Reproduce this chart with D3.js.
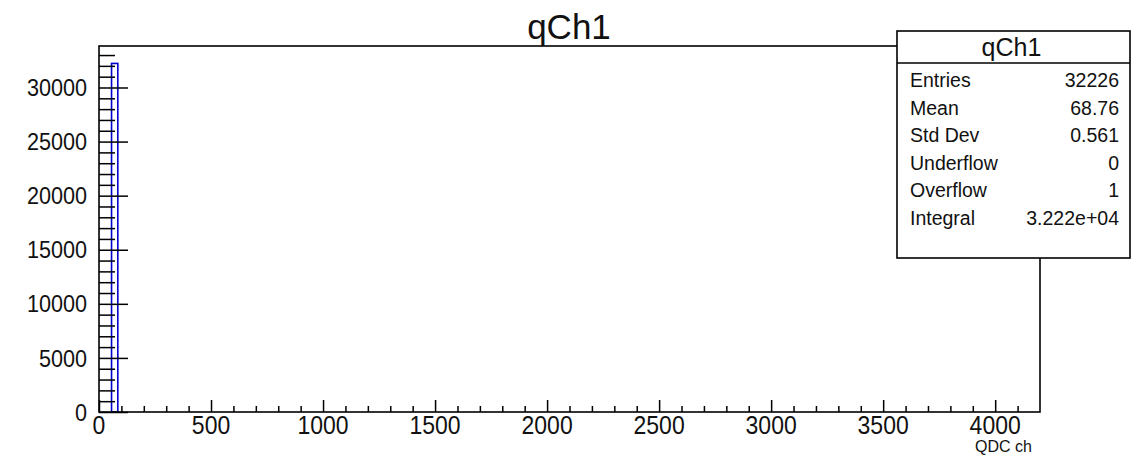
<!DOCTYPE html>
<html><head><meta charset="utf-8">
<script src="https://cdn.jsdelivr.net/npm/d3@7"></script>
<style>
html,body{margin:0;padding:0;background:#fff;}
svg{display:block;font-family:"Liberation Sans",Arial,Helvetica,sans-serif;}
</style></head>
<body>
<svg id="c" width="1140" height="456"></svg>
<script>
// ---- data ----
const histTitle = "qCh1";
const xAxisTitle = "QDC ch";
const binLowEdges = [56];
const binWidth = 28;
const binCounts = [32225];
const xRange = [0, 4200];
const yMax = 33836;
const xMajorTicks = [0, 500, 1000, 1500, 2000, 2500, 3000, 3500, 4000];
const yMajorTicks = [0, 5000, 10000, 15000, 20000, 25000, 30000];
const statLabels = ["Entries", "Mean", "Std Dev", "Underflow", "Overflow", "Integral"];
const statValues = ["32226", "68.76", "0.561", "0", "1", "3.222e+04"];

const svg = d3.select("#c");
const L = 99, R = 1040, T = 46, B = 412;
const x = d3.scaleLinear().domain(xRange).range([L, R]);
const y = d3.scaleLinear().domain([0, yMax]).range([B, T]);

// histogram outline
const bins = binLowEdges.map((lo, i) => ({lo, hi: lo + binWidth, c: binCounts[i]}));
svg.append("g").selectAll("rect").data(bins).join("rect")
  .attr("x", d => x(d.lo)).attr("width", d => x(d.hi) - x(d.lo))
  .attr("y", d => y(d.c)).attr("height", d => y(0) - y(d.c))
  .attr("fill", "none").attr("stroke", "#0000d0").attr("stroke-width", 1.6);

// minor tick values
const xMinor = d3.range(0, 4200, 100).filter(v => v % 500 !== 0);
const yMinor = d3.range(0, 34000, 1000).filter(v => v % 5000 !== 0);

// x axis ticks (inward, up)
const gx = svg.append("g").attr("transform", `translate(0,${B})`);
gx.call(d3.axisTop(x).tickValues(xMajorTicks).tickSize(12).tickFormat(""));
gx.append("g").call(d3.axisTop(x).tickValues(xMinor).tickSize(6).tickFormat(""));
gx.selectAll(".domain").remove();
gx.selectAll("line").attr("stroke", "#000").attr("stroke-width", 1.5);
// x labels (slightly tall, condensed like the reference)
svg.append("g").selectAll("text").data(xMajorTicks).join("text")
  .attr("transform", d => `translate(${x(d)},434) scale(0.92,1)`)
  .attr("text-anchor", "middle").attr("font-size", 25).attr("fill", "#111")
  .text(d => d);

// y axis ticks (inward, right)
const gy = svg.append("g").attr("transform", `translate(${L},0)`);
gy.call(d3.axisRight(y).tickValues(yMajorTicks).tickSize(29).tickFormat(""));
gy.append("g").call(d3.axisRight(y).tickValues(yMinor).tickSize(16).tickFormat(""));
gy.selectAll(".domain").remove();
gy.selectAll("line").attr("stroke", "#000").attr("stroke-width", 1.5);
svg.append("g").selectAll("text").data(yMajorTicks).join("text")
  .attr("transform", d => `translate(87,${y(d)}) scale(0.9,1)`)
  .attr("dy", "0.36em")
  .attr("text-anchor", "end").attr("font-size", 24).attr("fill", "#111")
  .text(d => d);

// frame
svg.append("rect").attr("x", L).attr("y", T).attr("width", R - L).attr("height", B - T)
  .attr("fill", "none").attr("stroke", "#000").attr("stroke-width", 1.6);

// title
svg.append("text").attr("x", 569).attr("y", 39).attr("text-anchor", "middle")
  .attr("font-size", 35).attr("fill", "#111").text(histTitle);

// x axis title
svg.append("text").attr("x", R - 8).attr("y", 452).attr("text-anchor", "end")
  .attr("font-size", 16).attr("fill", "#111").text(xAxisTitle);

// stats box
const sb = {x: 897, y: 31, w: 233, h: 227, head: 32};
const gs = svg.append("g");
gs.append("rect").attr("x", sb.x).attr("y", sb.y).attr("width", sb.w).attr("height", sb.h)
  .attr("fill", "#fff").attr("stroke", "#000").attr("stroke-width", 1.6);
gs.append("line").attr("x1", sb.x).attr("x2", sb.x + sb.w)
  .attr("y1", sb.y + sb.head).attr("y2", sb.y + sb.head).attr("stroke", "#000").attr("stroke-width", 1.4);
gs.append("text").attr("x", sb.x + sb.w / 2 - 2).attr("y", sb.y + 25).attr("text-anchor", "middle")
  .attr("font-size", 25).attr("fill", "#111").text(histTitle);
const rowY = i => 87 + i * 27.5;
gs.selectAll("text.lab").data(statLabels).join("text").attr("class", "lab")
  .attr("x", 910).attr("y", (d, i) => rowY(i)).attr("font-size", 19.5).attr("fill", "#111").text(d => d);
gs.selectAll("text.val").data(statValues).join("text").attr("class", "val")
  .attr("x", 1119).attr("y", (d, i) => rowY(i)).attr("text-anchor", "end")
  .attr("font-size", 19.5).attr("fill", "#111").text(d => d);
</script>
</body></html>
